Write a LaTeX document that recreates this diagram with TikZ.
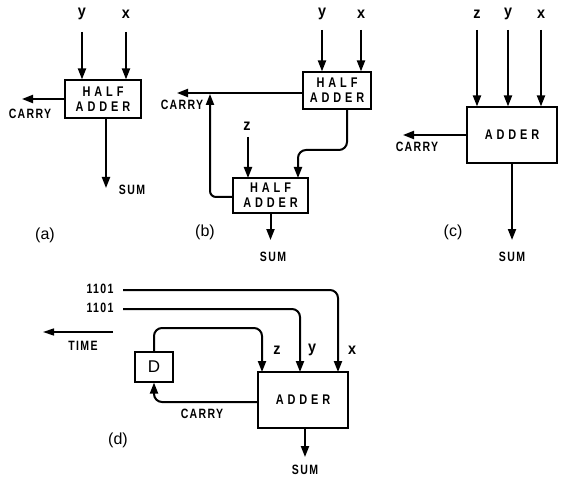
\documentclass[tikz,border=0pt]{standalone}
\usepackage{fontspec}
\setsansfont{Liberation Sans}
\newfontfamily\boxfont[FakeStretch=0.78,LetterSpace=28]{Liberation Sans Bold}
\newfontfamily\letfont[FakeStretch=0.78,LetterSpace=10]{Liberation Sans Bold}
\newfontfamily\varfont[FakeStretch=0.9]{Liberation Sans Bold}
\usetikzlibrary{arrows.meta}

\tikzset{
  box/.style={draw,line width=1.1pt,fill=white,inner sep=0pt,align=center,
    font=\boxfont\fontsize{14}{15}\selectfont},
  sig/.style={line width=2pt,-{Triangle[length=11pt,width=8pt]}},
  lbl/.style={inner sep=0pt,font=\letfont\fontsize{13.5}{14}\selectfont},
  var/.style={inner sep=0pt,font=\varfont\fontsize{16}{16}\selectfont},
  tag/.style={inner sep=0pt,font=\sffamily\fontsize{16}{16}\selectfont}
}

\begin{document}
\begin{tikzpicture}[x=1pt,y=-1pt]
  \useasboundingbox (0,0) rectangle (561,478);

  % (a) half adder
  \node[box,minimum width=76,minimum height=38] (ha) at (103,99) {HALF\\ADDER};
  \node[var] (ay) at (82,14) {y};
  \node[var] (ax) at (126,14) {x};
  \draw[sig] (82,32) -- (ay |- ha.north);
  \draw[sig] (126,32) -- (ax |- ha.north);
  \coordinate (ac) at (22,99);
  \draw[sig] (ha.west) -- (ac);
  \node[lbl] (acl) at (30,114) {CARRY};
  \node[lbl] (asl) at (132,190) {SUM};
  \draw[sig] (106,118) -- (106,188);
  \node[tag] (al) at (45,235) {(a)};

  % (b) full adder from two half adders
  \node[box,minimum width=68,minimum height=37] (hb1) at (337,90.5) {HALF\\ADDER};
  \node[box,minimum width=75,minimum height=35] (hb2) at (270.5,195.5) {HALF\\ADDER};
  \node[var] (by) at (322,14) {y};
  \node[var] (bx) at (361,14) {x};
  \node[var] (bz) at (247,126) {z};
  \draw[sig] (322,30) -- (by |- hb1.north);
  \draw[sig] (361,30) -- (bx |- hb1.north);
  \draw[sig] (248,137) -- (248,178);
  \coordinate (bc) at (177,93);
  \draw[sig] (hb1.west |- bc) -- (bc);
  \draw[sig,rounded corners=6] (hb2.west |- 0,197) -| (210,94);
  \draw[sig,rounded corners=8] (347,109) -- (347,150) -| (298,178);
  \draw[sig] (hb2.south) -- (270.5,240);
  \node[lbl] (bcl) at (182,105) {CARRY};
  \node[lbl] (bsl) at (273,257) {SUM};
  \node[tag] (bl) at (205,232) {(b)};

  % (c) full adder
  \node[box,minimum width=90,minimum height=56] (hc) at (512,135) {ADDER};
  \foreach \n/\t/\xx in {cz/z/477,cy/y/508,cx/x/541}{
    \node[var] (\n) at (\xx,14) {\t};
    \draw[sig] (\xx,30) -- (\n |- hc.north);
  }
  \coordinate (cc) at (403,135);
  \draw[sig] (hc.west) -- (cc);
  \draw[sig] (hc.south) -- (512,240);
  \node[lbl] (ccl) at (417,147) {CARRY};
  \node[lbl] (csl) at (512,257) {SUM};
  \node[tag] (cl) at (453,232) {(c)};

  % (d) serial adder
  \node[box,minimum width=90,minimum height=56] (hd) at (303,400) {ADDER};
  \node[box,font=\sffamily\fontsize{17}{17}\selectfont,minimum width=38,minimum height=30] (dd) at (154,367) {D};
  \node[lbl] (n1) at (100,289) {1101};
  \node[lbl] (n2) at (100,308) {1101};
  \draw[sig,rounded corners=8] (123,290) -| (338,372);
  \draw[sig,rounded corners=8] (123,309) -| (300,372);
  \draw[sig,rounded corners=8] (dd.north) |- (200,328) -| (262,372);
  \node[var] (dz) at (277,350) {z};
  \node[var] (dy) at (312,350) {y};
  \node[var] (dx) at (352,350) {x};
  \draw[sig,rounded corners=8] (hd.west |- 0,402) -| (dd.south);
  \node[lbl] (dcl) at (202,414) {CARRY};
  \draw[sig] (305,428) -- (305,457);
  \node[lbl] (dsl) at (305,470) {SUM};
  \node[tag] (dl) at (118,440) {(d)};
  \draw[line width=1.5pt,-{Triangle[length=11pt,width=7pt]}] (113,332) -- (43,332);
  \node[lbl] (tl) at (83,346) {TIME};
\end{tikzpicture}
\end{document}
